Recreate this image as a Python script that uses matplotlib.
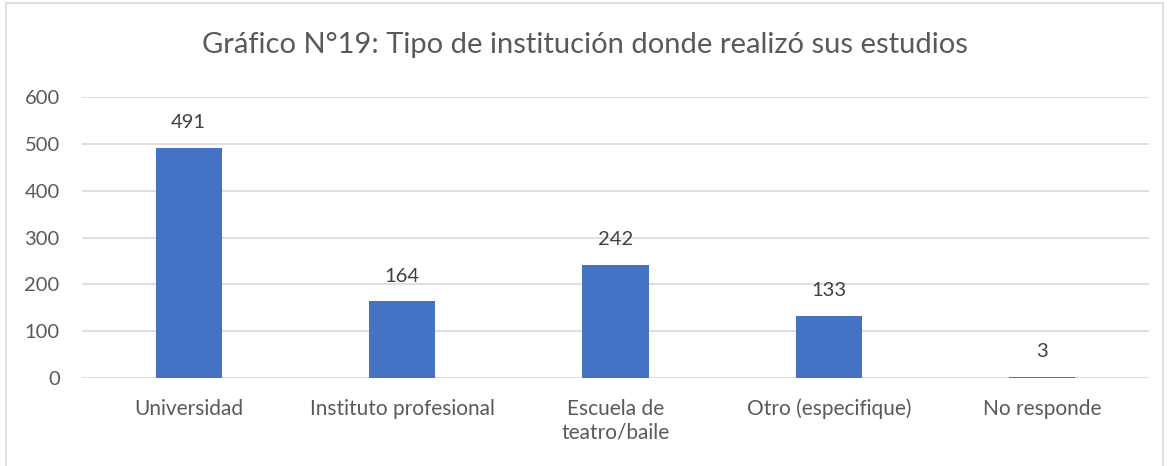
import matplotlib
matplotlib.use("Agg")
import matplotlib.pyplot as plt
from matplotlib.patches import Rectangle

# chart data
categorias = ["Universidad", "Instituto profesional", "Escuela de\nteatro/baile",
              "Otro (especifique)", "No responde"]
valores = [491, 164, 242, 133, 3]
yticks = [0, 100, 200, 300, 400, 500, 600]
titulo = "Gráfico N°19: Tipo de institución donde realizó sus estudios"

plt.rcParams['font.family'] = ['Lato', 'DejaVu Sans']
gris = "#595959"

fig = plt.figure(figsize=(11.69, 4.66), dpi=100)
ax = fig.add_axes([0.0701, 0.1888, 0.9128, 0.603])

x = range(len(categorias))
ax.bar(x, valores, width=0.31, color="#4472C4", zorder=3)
for i, v in enumerate(valores):
    ax.annotate(str(v), (i, v), xytext=(0, 12), textcoords="offset points",
                ha="center", va="bottom", fontsize=14.5, color="#404040")

ax.set_xlim(-0.5, len(categorias) - 0.5)
ax.set_ylim(0, 600)
ax.set_yticks(yticks)
ax.set_xticks(list(x))
ax.set_xticklabels(categorias, fontsize=15, color=gris, linespacing=1.2)
ax.tick_params(axis="y", labelsize=14.5, labelcolor=gris, length=0, pad=16)
ax.tick_params(axis="x", length=0, pad=15)
ax.grid(axis="y", color="#d9d9d9", linewidth=1.2, zorder=0)
for s in ax.spines.values():
    s.set_visible(False)

fig.text(0.5, 1 - 45 / 466, titulo, ha="center", va="center", fontsize=21, color=gris)

# chart area border
fig.add_artist(Rectangle((6 / 1169, -0.01), (1163 - 6) / 1169, 1 - 3 / 466 + 0.01,
                         transform=fig.transFigure, fill=False, edgecolor="#d9d9d9",
                         linewidth=1.2))

fig.savefig("out.png", dpi=100)
